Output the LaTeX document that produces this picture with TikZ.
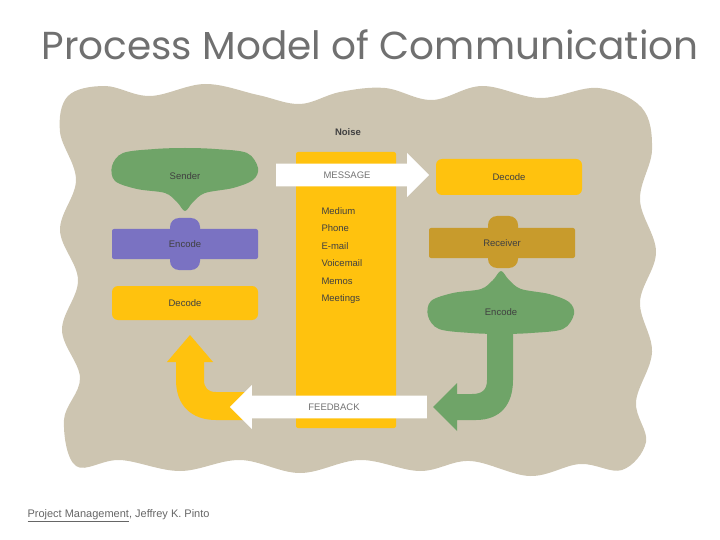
\documentclass[tikz,border=0pt]{standalone}
\usepackage{fontspec}
\setmainfont{Liberation Sans}
\newfontfamily\titlefont{Poppins}
\usetikzlibrary{shapes.arrows, positioning, backgrounds}
\definecolor{paper}{HTML}{CDC5B1}
\definecolor{leafgreen}{HTML}{6FA468}
\definecolor{encpurple}{HTML}{7A72C2}
\definecolor{gold}{HTML}{FFC20E}
\definecolor{ochre}{HTML}{C89B2C}
\definecolor{titlegray}{HTML}{707070}

\begin{document}
\begin{tikzpicture}[
    x=1pt, y=-1pt,
    lbl/.style={font=\fontsize{9.5}{11}\selectfont, text=black!75},
    bar/.style={lbl, rounded corners=2pt, minimum width=146pt, minimum height=30pt, inner sep=0pt},
    stem/.style={rounded corners=9pt, minimum width=30pt, minimum height=52pt, inner sep=0pt},
    flow/.style={lbl, single arrow, fill=white, text=black!55, inner xsep=4pt, inner ysep=7pt,
                 single arrow head extend=10pt, minimum width=44pt},
    blob/.pic={\fill[leafgreen] plot[smooth cycle, tension=0.55] coordinates
        {(-73,-10) (-62,-23) (-30,-27) (0,-28) (30,-27) (62,-23) (73,-8) (68,4)
         (48,12) (20,17) (8,26) (0,35) (-8,26) (-20,17) (-48,13) (-70,5)};},
]
\useasboundingbox (0,0) rectangle (720,540);

% Title
\node[font=\titlefont\fontsize{39}{42}\selectfont, text=titlegray] (title) at (370,45) {Process Model of Communication};

% Paper background
\fill[paper] plot[smooth cycle, tension=0.6] coordinates
    {(68,96) (105,86) (150,96) (205,84) (258,95) (300,104) (340,92) (385,88)
     (432,100) (482,86) (540,98) (598,88) (642,108) (652,150) (640,200) (656,252)
     (640,302) (652,352) (636,402) (646,442) (622,470) (580,464) (530,476) (470,461)
     (420,471) (360,460) (300,473) (240,460) (180,471) (120,460) (76,466) (64,420)
     (80,378) (62,330) (78,280) (60,230) (76,180) (60,132)};

% Noise column
\node[lbl, font=\fontsize{9.5}{11}\selectfont\bfseries] (noise) at (348,132) {Noise};
\fill[gold, rounded corners=2pt] (296,152) rectangle (396,428);
\node[lbl, align=left, anchor=north west, font=\fontsize{9.5}{17.5}\selectfont] (media) at (318,204)
    {Medium\\Phone\\E-mail\\Voicemail\\Memos\\Meetings};

% Curved feedback arrows
\fill[gold] (245,392) -- (216,392) .. controls (208,392) and (204,388) .. (204,380) -- (204,362)
    -- (213,362) -- (190,335) -- (167,362) -- (176,362) -- (176,380)
    .. controls (176,406) and (192,420) .. (216,420) -- (245,420) -- cycle;
\fill[leafgreen] (487,330) -- (487,380) .. controls (487,390) and (482,394) .. (472,394) -- (457,394)
    -- (457,383) -- (433,407) -- (457,431) -- (457,420) -- (476,420)
    .. controls (500,420) and (513,405) .. (513,380) -- (513,330) -- cycle;

% Sender side
\pic at (185,176) {blob};
\node[lbl] (snd) at (185,176) {Sender};
\node[stem, fill=encpurple] (encv) at (185,244) {};
\node[bar, fill=encpurple] (enc) at (185,244) {Encode};
\node[bar, fill=gold, rounded corners=6pt, minimum height=34pt] (dec) at (185,303) {Decode};

% Receiver side
\node[bar, fill=gold, rounded corners=6pt, minimum height=36pt] (rdec) at (509,177) {Decode};
\node[stem, fill=ochre] (rcvv) at (503,242) {};
\node[bar, fill=ochre] (rcv) at (502,243) {Receiver};
\pic[yscale=-1] at (501,306) {blob};
\node[lbl] (renc) at (501,312) {Encode};

% Message and feedback
\node[flow, minimum height=153pt] (msg) at (347,175) {MESSAGE};
\node[flow, shape border rotate=180, minimum height=197pt] (fb) at (334,407) {FEEDBACK};

% Source
\node[anchor=west, font=\fontsize{11}{13}\selectfont, text=black!60] (src) at (24,516)
    {\underline{Project Management}, Jeffrey K. Pinto};
\end{tikzpicture}
\end{document}
